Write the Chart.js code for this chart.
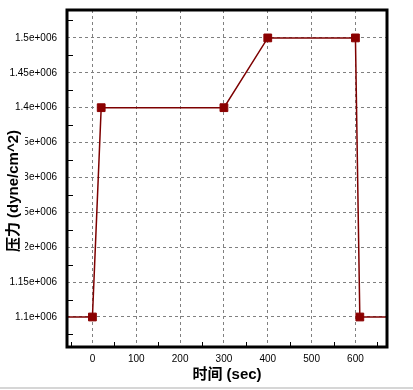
<!DOCTYPE html>
<html>
<head>
<meta charset="utf-8">
<script src="https://cdn.jsdelivr.net/npm/chart.js@4"></script>
<style>
  body { margin: 0; background: #fff; }
  #wrap { width: 413px; height: 390px; position: relative; }
</style>
</head>
<body>
<div id="wrap"><canvas id="pressureChart"></canvas></div>
<script>
// values
const times = [-58, 0, 20, 300, 400, 600, 610, 672];
const pressures = [1.1e6, 1.1e6, 1.4e6, 1.4e6, 1.5e6, 1.5e6, 1.1e6, 1.1e6];
const showMarker = [false, true, true, true, true, true, true, false];

const xTicks = [0, 100, 200, 300, 400, 500, 600];
const xMinorTicks = [-50, 50, 150, 250, 350, 450, 550, 650];
const yTicks = [1.1e6, 1.15e6, 1.2e6, 1.25e6, 1.3e6, 1.35e6, 1.4e6, 1.45e6, 1.5e6];
const yTickLabels = ['1.1e+006', '1.15e+006', '1.2e+006', '1.25e+006', '1.3e+006', '1.35e+006', '1.4e+006', '1.45e+006', '1.5e+006'];
const yMinorTicks = [1.075e6, 1.125e6, 1.175e6, 1.225e6, 1.275e6, 1.325e6, 1.375e6, 1.425e6, 1.475e6, 1.525e6];

const xTitle = '时间 (sec)';
const yTitle = '压力 (dyne/cm^2)';

const titleFont = 'bold 15px "Liberation Sans", "Noto Sans CJK SC", sans-serif';

// frame, minor ticks and axis titles
const decorPlugin = {
    id: 'decor',
    afterDraw(chart) {
        const c = chart.ctx;
        const a = chart.chartArea;
        const xs = chart.scales.x, ys = chart.scales.y;
        c.save();
        c.strokeStyle = '#000';
        c.lineWidth = 1;
        c.beginPath();
        xMinorTicks.forEach(v => {
            const px = Math.round(xs.getPixelForValue(v)) + 0.5;
            c.moveTo(px, a.bottom);
            c.lineTo(px, a.bottom - 5);
        });
        yMinorTicks.forEach(v => {
            const py = Math.round(ys.getPixelForValue(v)) + 0.5;
            c.moveTo(a.left, py);
            c.lineTo(a.left + 6, py);
        });
        c.stroke();

        c.lineWidth = 3;
        c.strokeRect(a.left, a.top, a.right - a.left, a.bottom - a.top);

        c.fillStyle = '#000';
        c.font = titleFont;
        c.textAlign = 'center';
        c.textBaseline = 'middle';
        c.fillText(xTitle, (a.left + a.right) / 2, 375);

        c.translate(14, 191);
        c.rotate(-Math.PI / 2);
        const w = c.measureText(yTitle).width;
        c.fillStyle = '#fff';
        c.fillRect(-w / 2 - 2, -11, w + 4, 22);
        c.fillStyle = '#000';
        c.fillText(yTitle, 0, 0);
        c.restore();

        c.save();
        c.strokeStyle = '#d6d6d6';
        c.lineWidth = 2;
        c.beginPath();
        c.moveTo(0, 388);
        c.lineTo(chart.width, 388);
        c.stroke();
        c.restore();
    }
};

const ctx = document.getElementById('pressureChart').getContext('2d');
const pressureChart = new Chart(ctx, {
    type: 'line',
    data: {
        datasets: [{
            data: times.map((t, i) => ({ x: t, y: pressures[i] })),
            borderColor: '#7d0000',
            borderWidth: 1.5,
            tension: 0,
            pointStyle: 'rect',
            pointRadius: c => showMarker[c.dataIndex] ? 5.5 : 0,
            pointBackgroundColor: '#8b0000',
            pointBorderColor: '#8b0000',
            pointBorderWidth: 1,
            pointHoverRadius: c => showMarker[c.dataIndex] ? 5.5 : 0
        }]
    },
    options: {
        responsive: true,
        maintainAspectRatio: false,
        animation: false,
        layout: { padding: { top: 10, right: 26, left: 0, bottom: 0 } },
        plugins: {
            legend: { display: false },
            tooltip: { enabled: false }
        },
        scales: {
            x: {
                type: 'linear',
                min: times[0],
                max: times[times.length - 1],
                afterBuildTicks: s => { s.ticks = xTicks.map(v => ({ value: v })); },
                afterFit: s => { s.height = 43; s.paddingLeft = 0; s.paddingRight = 0; },
                grid: { color: '#808080', lineWidth: 1, drawTicks: false },
                border: { display: false, dash: [3, 3] },
                ticks: {
                    padding: 6,
                    color: '#000',
                    maxRotation: 0,
                    autoSkip: false,
                    font: { family: 'Liberation Sans', size: 10 },
                    callback: v => String(v)
                }
            },
            y: {
                min: 1.057e6,
                max: 1.54e6,
                afterBuildTicks: s => { s.ticks = yTicks.map(v => ({ value: v })); },
                afterFit: s => { s.width = 67; s.paddingTop = 0; s.paddingBottom = 0; },
                grid: { color: '#808080', lineWidth: 1, drawTicks: false },
                border: { display: false, dash: [3, 3] },
                ticks: {
                    padding: 10,
                    color: '#000',
                    autoSkip: false,
                    font: { family: 'Liberation Sans', size: 10 },
                    callback: (v, i) => yTickLabels[i]
                }
            }
        }
    },
    plugins: [decorPlugin]
});
</script>
</body>
</html>
